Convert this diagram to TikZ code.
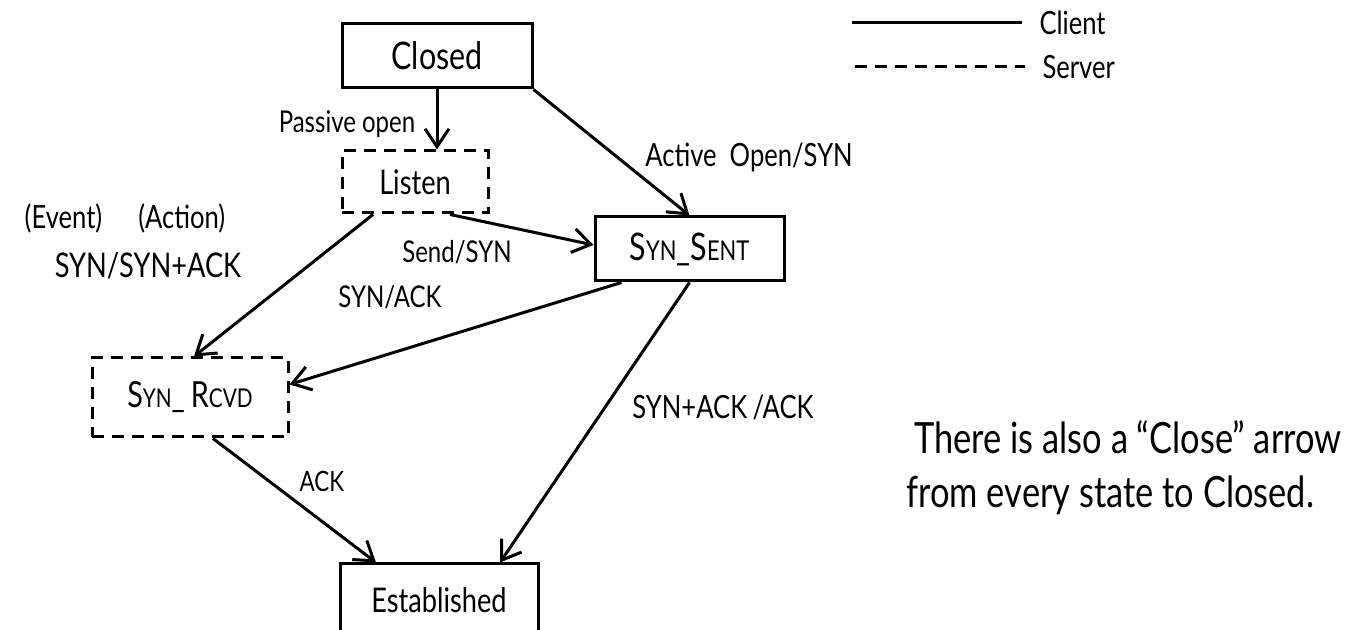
\documentclass[tikz,border=0pt]{standalone}
\usepackage{fontspec}
\setmainfont{Lato}[FakeStretch=0.8]
\usetikzlibrary{arrows.meta}
\newcommand{\sml}[1]{\scalebox{0.72}{#1}}
\newcommand{\fs}[1]{\fontsize{#1}{#1}\selectfont}
\begin{document}
\begin{tikzpicture}[x=0.5pt, y=-0.5pt, line width=1.5pt,
	state/.style = {draw, inner sep=0pt, minimum width=#1},
	server/.style = {dash pattern=on 6pt off 4pt},
	trans/.style = {-{Straight Barb[length=9pt,width=12pt,line width=1.5pt]}},
	lbl/.style = {inner sep=0pt}]
	\useasboundingbox (0,0) rectangle (1357,630);
	\node[state=95pt, minimum height=32pt] (closed) at (437,56) {\fs{19pt}Closed};
	\node[state=73pt, minimum height=31pt, server] (listen) at (415,182) {\fs{17pt}Listen};
	\node[state=94.5pt, minimum height=32pt] (synsent) at (689.5,249) {\fs{19pt}S\sml{YN}\_S\sml{ENT}};
	\node[state=98pt, minimum height=39.5pt, server] (synrcvd) at (190,397.5) {\fs{18pt}S\sml{YN}\_\,R\sml{CVD}};
	\node[state=99pt, minimum height=36pt] (est) at (439,600) {\fs{17pt}Established};
	\draw[trans] (closed.south) -- (closed.south |- listen.north);
	\draw[trans] (closed.south east) -- (synsent.north);
	\draw[trans] ([xshift=17.5pt]listen.south) -- ([yshift=2pt]synsent.west);
	\draw[trans] ([xshift=-21pt]listen.south) -- ([xshift=2pt]synrcvd.north);
	\draw[trans] ([xshift=14pt]synsent.south west) -- ([yshift=6.5pt]synrcvd.east);
	\draw[trans] (synsent.south) -- ([xshift=30.5pt]est.north);
	\draw[trans] ([xshift=11.5pt]synrcvd.south) -- ([xshift=-31.5pt]est.north);
	\node[lbl] (passive) at (347,124) {\fs{15pt}Passive open};
	\node[lbl] (active) at (749,157) {\fs{16pt}Active\ \ Open/SYN};
	\node[lbl] (send) at (457,252) {\fs{15pt}Send/SYN};
	\node[lbl] (evact) at (125,218) {\fs{16pt}(Event)\hspace{18pt}(Action)};
	\node[lbl] (synsynack) at (148,266) {\fs{17pt}SYN/SYN+ACK};
	\node[lbl] (synack) at (390,297) {\fs{15pt}SYN/ACK};
	\node[lbl] (synackack) at (723,407) {\fs{16pt}SYN+ACK\,/ACK};
	\node[lbl] (ack) at (322,481) {\fs{14pt}ACK};
	\node[lbl, anchor=west] (note1) at (913,437) {\fs{21.5pt}There is also a ``Close'' arrow};
	\node[lbl, anchor=west] (note2) at (905,495) {\fs{21.5pt}from every state to Closed.};
	\coordinate (cla) at (852,23);
	\coordinate (clb) at (1022,23);
	\coordinate (sva) at (855,67);
	\coordinate (svb) at (1025,67);
	\draw (cla) -- (clb) node[lbl, right=8pt] (client) {\fs{16pt}Client};
	\draw[server] (sva) -- (svb) node[lbl, right=8pt] (server) {\fs{16pt}Server};
\end{tikzpicture}
\end{document}
